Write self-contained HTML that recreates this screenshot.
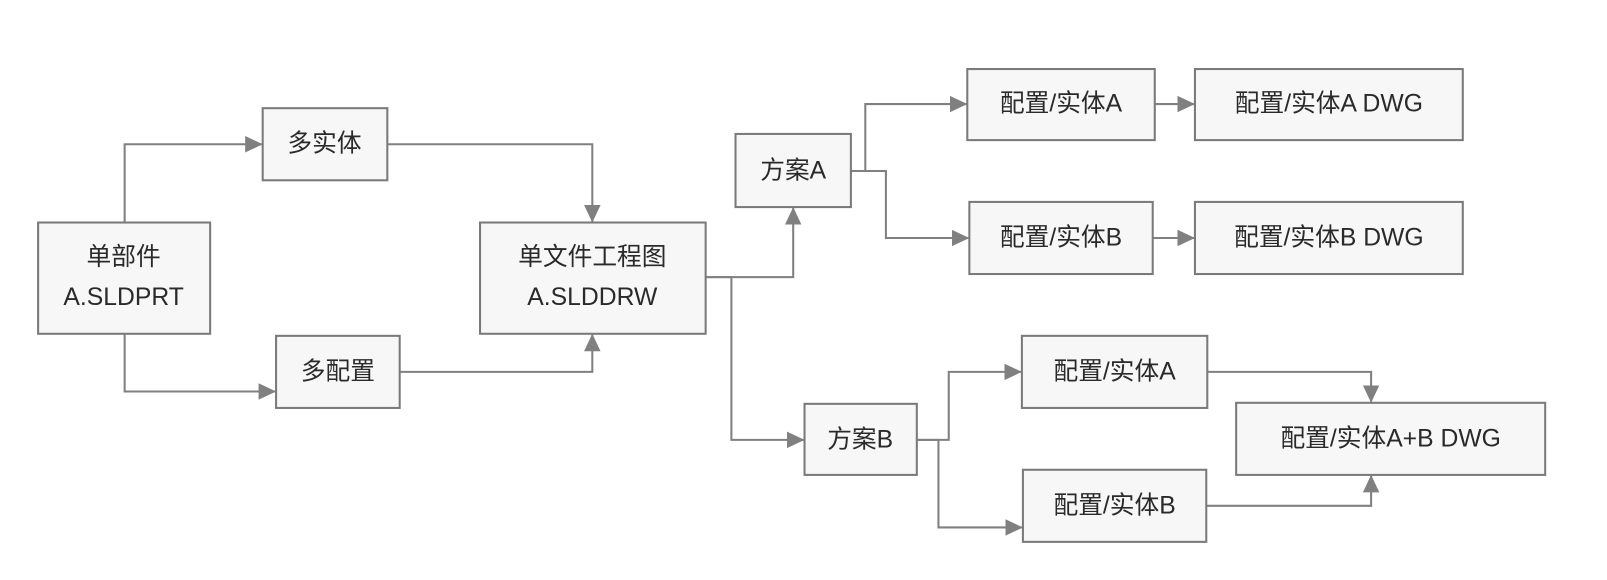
<!DOCTYPE html>
<html><head><meta charset="utf-8"><style>
html,body{margin:0;padding:0;background:#fff;}
svg{display:block;}
text{font-family:"Liberation Sans","Noto Sans CJK SC",sans-serif;font-size:24px;fill:#2a2a2a;text-anchor:middle;dominant-baseline:central;}
rect{fill:#f7f7f7;stroke:#7a7a7a;stroke-width:2;}
.l{fill:none;stroke:#808080;stroke-width:2;}
</style></head><body>
<svg width="1607" height="580" viewBox="0 0 1560 563" xmlns="http://www.w3.org/2000/svg">
<defs><marker id="b" markerWidth="18" markerHeight="16" refX="16" refY="8" orient="auto" markerUnits="userSpaceOnUse"><path d="M0,0 L17,8 L0,16 Z" fill="#808080"/></marker></defs>
<g class="l" marker-end="url(#b)">
<path class="l" d="M121,216 V140 H254"/>
<path class="l" d="M121,324 V380 H267"/>
<path class="l" d="M376,140 H575 V215"/>
<path class="l" d="M388,361 H575 V325"/>
<path class="l" d="M685,269 H770 V202"/>
<path class="l" d="M685,269 H710 V427 H780"/>
<path class="l" d="M826,166 H840 V101 H938"/>
<path class="l" d="M826,166 H860 V231 H940"/>
<path class="l" d="M1121,101 H1159"/>
<path class="l" d="M1119,231 H1159"/>
<path class="l" d="M890,427 H921 V361 H991"/>
<path class="l" d="M890,427 H911 V512 H992"/>
<path class="l" d="M1172,361 H1331 V390"/>
<path class="l" d="M1171,491 H1331 V462"/>
</g>
<rect x="37" y="216" width="167" height="108"/><text x="120" y="250">单部件</text><text x="120" y="289">A.SLDPRT</text>
<rect x="255" y="105" width="121" height="70"/><text x="315" y="140">多实体</text>
<rect x="268" y="326" width="120" height="70"/><text x="328" y="361">多配置</text>
<rect x="466" y="216" width="219" height="108"/><text x="575" y="250">单文件工程图</text><text x="575" y="289">A.SLDDRW</text>
<rect x="714" y="130" width="112" height="71"/><text x="770" y="166">方案A</text>
<rect x="939" y="67" width="182" height="69"/><text x="1030" y="101">配置/实体A</text>
<rect x="1160" y="67" width="260" height="69"/><text x="1290" y="101">配置/实体A DWG</text>
<rect x="941" y="196" width="178" height="70"/><text x="1030" y="231">配置/实体B</text>
<rect x="1160" y="196" width="260" height="70"/><text x="1290" y="231">配置/实体B DWG</text>
<rect x="781" y="392" width="109" height="69"/><text x="835" y="427">方案B</text>
<rect x="992" y="326" width="180" height="70"/><text x="1082" y="361">配置/实体A</text>
<rect x="1200" y="391" width="300" height="70"/><text x="1350" y="426">配置/实体A+B DWG</text>
<rect x="993" y="456" width="178" height="70"/><text x="1082" y="491">配置/实体B</text>
</svg>
</body></html>
